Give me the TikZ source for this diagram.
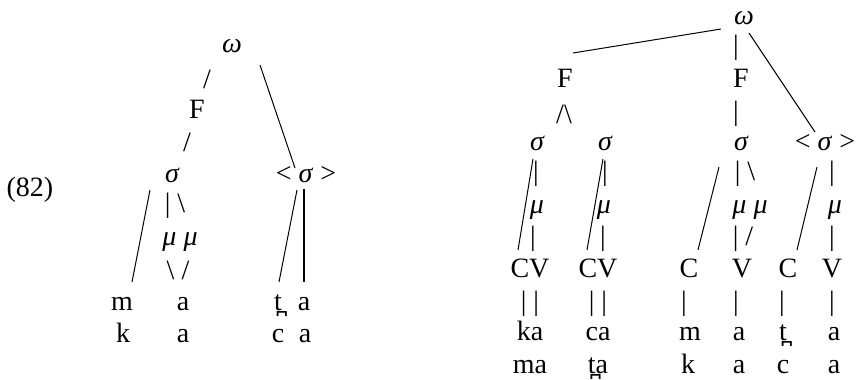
\documentclass[tikz,border=0pt]{standalone}
\usepackage{fontspec}
\setmainfont{Liberation Serif}
\usepackage{tikz}
\newcommand\tdent{t̪}
\begin{document}
\begin{tikzpicture}[
    x=0.5pt,y=-0.5pt,
    tx/.style  = {font=\fontsize{14}{16}\selectfont,inner sep=0pt},
    lt/.style  = {tx,anchor=base},
    gr/.style  = {lt,font=\fontsize{14}{16}\selectfont\itshape},
    ln/.style  = {line width=0.5pt},
    lnB/.style = {line width=1.3pt},
  ]
  \useasboundingbox (0,0) rectangle (858,380);

  % Numéro de l'exemple
  \node[lt] (ex) at (30,196) {(82)};

  % Arbre de gauche
  \node[gr] (wL)   at (232,53)  {ω};
  \node[tx] (slA)  at (207,79)  {/};
  \node[lt] (FL)   at (197,118) {F};
  \node[tx] (slB)  at (187,142) {/};
  \node[gr] (sL)   at (172,182) {σ};
  \node[lt] (osL)  at (306,182) {< \textit{σ} >};
  \node[tx] (vbL)  at (175,206) {| \textbackslash};
  \node[gr] (mmL)  at (180,245) {μ μ};
  \node[tx] (vbL2) at (178,270) {\textbackslash\ /};
  \node[lt] (mL)   at (122,310) {m};
  \node[lt] (aL1)  at (183,310) {a};
  \node[lt] (kL)   at (123,342) {k};
  \node[lt] (aL2)  at (183,342) {a};
  \node[lt] (tL)   at (278,310) {\tdent};
  \node[lt] (aL3)  at (304,310) {a};
  \node[lt] (cL)   at (278,342) {c};
  \node[lt] (aL4)  at (305,342) {a};

  \draw[ln]  ([shift={(28,12)}]wL.base)   -- ([shift={(-11,-14)}]osL.base);
  \draw[ln]  ([shift={(-22,8)}]sL.base)   -- ([shift={(10,-28)}]mL.base);
  \draw[ln]  ([shift={(-9,8)}]osL.base)   -- ([shift={(1,-28)}]tL.base);
  \draw[lnB] ([shift={(-2,7)}]osL.base)   -- ([shift={(0,-28)}]aL3.base);

  % Arbre de droite
  \node[gr] (wR)  at (744,25)  {ω};
  \node[tx] (vR)  at (736,48)  {|};
  \node[lt] (FR1) at (565,87)  {F};
  \node[lt] (FR2) at (741,87)  {F};
  \node[tx] (brF) at (564,114) {/\textbackslash};
  \node[tx] (vF)  at (736,114) {|};
  \node[gr] (s1)  at (537,150) {σ};
  \node[gr] (s2)  at (605,150) {σ};
  \node[gr] (s3)  at (741,150) {σ};
  \node[lt] (osR) at (825,150) {< \textit{σ} >};

  \node[tx] (v1a) at (536,174) {|};
  \node[tx] (v2a) at (605,174) {|};
  \node[tx] (v3a) at (745,174) {| \textbackslash};
  \node[tx] (v4a) at (832,174) {|};
  \node[gr] (m1)  at (537,213) {μ};
  \node[gr] (m2)  at (604,213) {μ};
  \node[gr] (m3)  at (750,213) {μ μ};
  \node[gr] (m4)  at (835,213) {μ};
  \node[tx] (v1b) at (533,239) {|};
  \node[tx] (v2b) at (603,239) {|};
  \node[tx] (v3b) at (743,239) {| /};
  \node[tx] (v4b) at (832,239) {|};

  \node[lt] (CV1) at (530,277) {CV};
  \node[lt] (CV2) at (598,277) {CV};
  \node[lt] (C1)  at (689,277) {C};
  \node[lt] (V1)  at (742,277) {V};
  \node[lt] (C2)  at (788,277) {C};
  \node[lt] (V2)  at (832,277) {V};

  \node[tx] (v1c) at (530,304) {| |};
  \node[tx] (v2c) at (598,304) {| |};
  \node[tx] (v3c) at (684,304) {|};
  \node[tx] (v4c) at (736,304) {|};
  \node[tx] (v5c) at (782,304) {|};
  \node[tx] (v6c) at (832,304) {|};

  \node[lt] (ka)  at (530,340) {ka};
  \node[lt] (ca)  at (598,340) {ca};
  \node[lt] (mR)  at (690,340) {m};
  \node[lt] (aR1) at (739,340) {a};
  \node[lt] (tR)  at (783,340) {\tdent};
  \node[lt] (aR2) at (834,340) {a};
  \node[lt] (ma)  at (530,373) {ma};
  \node[lt] (ta)  at (598,373) {\tdent a};
  \node[lt] (kR)  at (688,373) {k};
  \node[lt] (aR3) at (739,373) {a};
  \node[lt] (cR)  at (783,373) {c};
  \node[lt] (aR4) at (834,373) {a};

  \draw[ln] ([shift={(-23,4)}]wR.base)  -- ([shift={(8,-34)}]FR1.base);
  \draw[ln] ([shift={(5,8)}]wR.base)    -- ([shift={(-10,-18)}]osR.base);
  \draw[ln] ([shift={(-4,9)}]s1.base)   -- ([shift={(-12,-27)}]CV1.base);
  \draw[ln] ([shift={(-2,9)}]s2.base)   -- ([shift={(-11,-27)}]CV2.base);
  \draw[ln] ([shift={(-22,17)}]s3.base) -- ([shift={(9,-27)}]C1.base);
  \draw[ln] ([shift={(-8,17)}]osR.base) -- ([shift={(9,-27)}]C2.base);

\end{tikzpicture}
\end{document}
